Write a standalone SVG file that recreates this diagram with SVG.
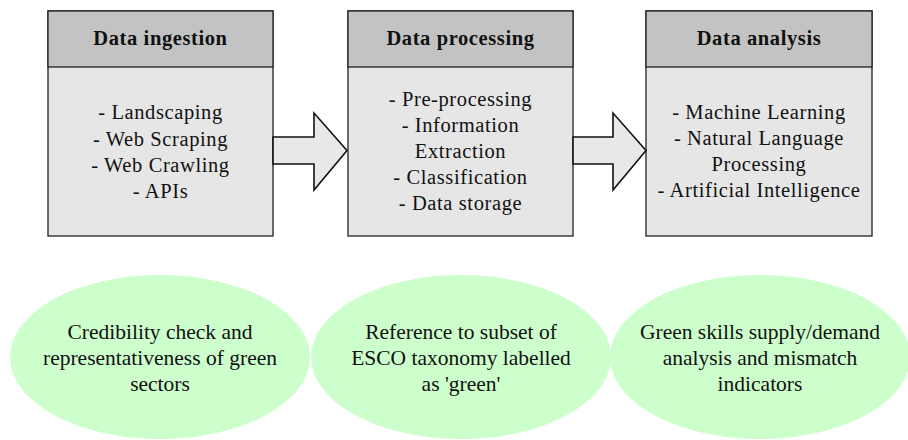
<svg xmlns="http://www.w3.org/2000/svg" width="908" height="440" viewBox="0 0 908 440">
<style>
.hdr{fill:#c3c3c3;stroke:#222;stroke-width:1.3}
.body{fill:#e6e6e6;stroke:#222;stroke-width:1.3}
.ht{font-family:"Liberation Serif","Times New Roman",serif;font-size:20.5px;font-weight:bold;fill:#111;text-anchor:middle;letter-spacing:0.6px}
.bt{font-family:"Liberation Serif","Times New Roman",serif;font-size:20.5px;fill:#111;text-anchor:middle;letter-spacing:0.6px}
.el{fill:#ccffcc}
.et{font-family:"Liberation Serif","Times New Roman",serif;font-size:21.5px;fill:#111;text-anchor:middle}
.arr{fill:#e8e8e8;stroke:#111;stroke-width:1.6;stroke-linejoin:miter}
</style>
<rect width="908" height="440" fill="#fff"/>
<g id="ingestion">
<rect class="body" x="48" y="11" width="225" height="225"/>
<rect class="hdr" x="48" y="11" width="225" height="56"/>
<text class="ht" x="160.5" y="45">Data ingestion</text>
<text class="bt" x="160.5" y="119">- Landscaping</text>
<text class="bt" x="160.5" y="145.5">- Web Scraping</text>
<text class="bt" x="160.5" y="172">- Web Crawling</text>
<text class="bt" x="160.5" y="198">- APIs</text>
</g>
<g id="processing">
<rect class="body" x="348" y="11" width="225" height="225"/>
<rect class="hdr" x="348" y="11" width="225" height="56"/>
<text class="ht" x="460.5" y="45">Data processing</text>
<text class="bt" x="460.5" y="106">- Pre-processing</text>
<text class="bt" x="460.5" y="132">- Information</text>
<text class="bt" x="460.5" y="158">Extraction</text>
<text class="bt" x="460.5" y="184">- Classification</text>
<text class="bt" x="460.5" y="210">- Data storage</text>
</g>
<g id="analysis">
<rect class="body" x="646" y="11" width="226" height="225"/>
<rect class="hdr" x="646" y="11" width="226" height="56"/>
<text class="ht" x="759" y="45">Data analysis</text>
<text class="bt" x="759" y="119">- Machine Learning</text>
<text class="bt" x="759" y="145">- Natural Language</text>
<text class="bt" x="759" y="171">Processing</text>
<text class="bt" x="759" y="197">- Artificial Intelligence</text>
</g>
<g id="connectors">
<polygon class="arr" points="273,137 314,137 314,113 347,150.5 314,190 314,164 273,164"/>
<polygon class="arr" points="573,137 613,137 613,113 646,150.5 613,190 613,164 573,164"/>
</g>
<g id="credibility">
<ellipse class="el" cx="160" cy="357" rx="150" ry="82"/>
<text class="et" x="160" y="339">Credibility check and</text>
<text class="et" x="160" y="365">representativeness of green</text>
<text class="et" x="160" y="391">sectors</text>
</g>
<g id="esco">
<ellipse class="el" cx="461" cy="357" rx="150" ry="82"/>
<text class="et" x="461" y="339">Reference to subset of</text>
<text class="et" x="461" y="365">ESCO taxonomy labelled</text>
<text class="et" x="461" y="391">as 'green'</text>
</g>
<g id="mismatch">
<ellipse class="el" cx="760" cy="357" rx="150" ry="82"/>
<text class="et" x="760" y="339">Green skills supply/demand</text>
<text class="et" x="760" y="365">analysis and mismatch</text>
<text class="et" x="760" y="391">indicators</text>
</g>
</svg>
